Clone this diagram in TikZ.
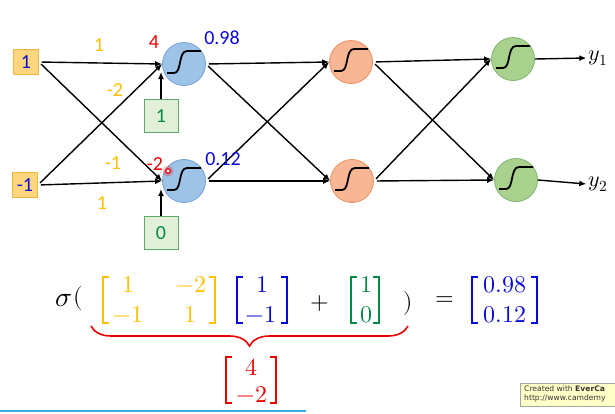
\documentclass[tikz,border=0pt]{standalone}
\usepackage{amsmath}
\usepackage{fontspec}
\usepackage{unicode-math}
\setmathfont{Latin Modern Math}
\newfontfamily\lab{Carlito}
\newfontfamily\wmfont{DejaVu Sans}
\usetikzlibrary{calc,decorations.pathreplacing,arrows.meta}
\definecolor{gold}{RGB}{255,192,0}
\definecolor{txtblue}{RGB}{10,10,215}
\definecolor{txtred}{RGB}{235,0,0}
\definecolor{txtgreen}{RGB}{0,140,70}
\definecolor{infill}{RGB}{255,214,125}
\definecolor{inborder}{RGB}{245,180,70}
\definecolor{bfill}{RGB}{226,240,217}
\definecolor{bborder}{RGB}{90,170,105}
\definecolor{nbfill}{RGB}{157,195,230}
\definecolor{nbdraw}{RGB}{115,160,215}
\definecolor{nofill}{RGB}{248,182,148}
\definecolor{nodraw}{RGB}{235,145,95}
\definecolor{ngfill}{RGB}{169,209,142}
\definecolor{ngdraw}{RGB}{130,180,110}
\definecolor{lineblue}{RGB}{60,170,230}
\definecolor{wmfill}{RGB}{255,255,200}
\newcommand\sigcurve[1]{\draw[sigline] ($(#1)+(-17,9)$) -- ($(#1)+(-10,9)$) .. controls ($(#1)+(-2,9)$) and ($(#1)+(-6,-13)$) .. ($(#1)+(3,-13)$) -- ($(#1)+(17,-13)$);}
\newcommand\brkpair[5]{%
  \draw[#1, brk] (#2+6,#4) -- (#2,#4) -- (#2,#5) -- (#2+6,#5);
  \draw[#1, brk] (#3-6,#4) -- (#3,#4) -- (#3,#5) -- (#3-6,#5);}
\tikzset{
  inbox/.style={draw=inborder, fill=infill, line width=0.8pt, minimum width=25pt, minimum height=25pt, inner sep=0pt, font=\lab\fontsize{20}{22}\selectfont, text=txtblue},
  biasbox/.style={draw=bborder, fill=bfill, line width=0.8pt, minimum width=34pt, minimum height=33pt, inner sep=0pt, font=\lab\fontsize{20}{22}\selectfont, text=txtgreen},
  neuron/.style={circle, minimum size=43pt, inner sep=0pt, line width=0.8pt},
  nblue/.style={neuron, draw=nbdraw, fill=nbfill},
  norange/.style={neuron, draw=nodraw, fill=nofill},
  ngreen/.style={neuron, draw=ngdraw, fill=ngfill},
  sigline/.style={line width=1.8pt, black},
  conn/.style={line width=1.4pt, black, -{Latex[length=7pt,width=6pt]}},
  wlab/.style={font=\lab\fontsize{20}{22}\selectfont, text=gold, inner sep=0pt},
  zlab/.style={font=\lab\fontsize{20}{22}\selectfont, text=txtred, inner sep=0pt},
  alab/.style={font=\lab\fontsize{20}{22}\selectfont, text=txtblue, inner sep=0pt},
  outlab/.style={font=\fontsize{22}{24}\selectfont, inner sep=0pt},
  eq/.style={font=\fontsize{24}{28}\selectfont, inner sep=0pt},
  brk/.style={line width=1.5pt},
}
\begin{document}
\begin{tikzpicture}[x=1pt,y=-1pt]
\useasboundingbox (0,0) rectangle (615,413);
% input and neurons
\node[inbox] (x1) at (26,62) {1};
\node[inbox] (x2) at (25,185) {-1};
\node[nblue] (h1) at (184,64) {};
\node[nblue] (h2) at (184,181) {};
\node[biasbox] (b1) at (161,116) {1};
\node[biasbox] (b2) at (161,233) {0};
\node[norange] (g1) at (351,62) {};
\node[norange] (g2) at (352,181) {};
\node[ngreen] (o1) at (513,59) {};
\node[ngreen] (o2) at (516,180) {};
\node[outlab] (y1) at (598,58) {$y_1$};
\node[outlab] (y2) at (598,184) {$y_2$};
\foreach \n in {h1,h2,g1,g2,o1,o2} {\sigcurve{\n}}
\coordinate (hin1) at ($(h1.west)+(0,8)$);
\coordinate (hin2) at ($(h2.west)+(0,8)$);
% connectors
\draw[conn, shorten <=3pt] (x1.east) -- (h1.west);
\draw[conn, shorten <=3pt] (x1.east) -- (h2.west);
\draw[conn, shorten <=3pt] (x2.east) -- (h1.west);
\draw[conn, shorten <=3pt] (x2.east) -- (h2.west);
\draw[conn] (b1.north) -- (b1.north |- hin1);
\draw[conn] (b2.north) -- (b2.north |- hin2);
\draw[conn, shorten <=3pt] (h1.east) -- (g1.west);
\draw[conn, shorten <=3pt] (h1.east) -- (g2.west);
\draw[conn, shorten <=3pt] (h2.east) -- (g1.west);
\draw[conn, shorten <=3pt] (h2.east) -- (g2.west);
\draw[conn, shorten <=3pt] (g1.east) -- (o1.west);
\draw[conn, shorten <=3pt] (g1.east) -- (o2.west);
\draw[conn, shorten <=3pt] (g2.east) -- (o1.west);
\draw[conn, shorten <=3pt] (g2.east) -- (o2.west);
\draw[conn] (o1.east) -- ([xshift=-2pt]y1.west);
\draw[conn] (o2.east) -- ([xshift=-2pt]y2.west);
% labels
\node[wlab] (w11) at (99,45) {1};
\node[wlab] (w12) at (115,90) {-2};
\node[wlab] (w21) at (113,163) {-1};
\node[wlab] (w22) at (102,203) {1};
\node[zlab] (z1) at (154,42) {4};
\node[zlab] (z2) at (155,164) {-2};
\node[alab] (a1) at (222,38) {0.98};
\node[alab] (a2) at (223,159) {0.12};
% pointer dot
\fill[red, opacity=0.25] (168,171) circle (5.5pt);
\draw[txtred, line width=1.2pt, fill=white] (168,171) circle (2.3pt);
% equation
\node[eq, font=\fontsize{28}{30}\selectfont] (sig) at (64,301) {$\sigma$};
\node[eq] (lp) at (78,298) {$($};
\brkpair{gold}{103}{215}{277}{323}
\node[eq, text=gold] (m11) at (128,285) {$1$};
\node[eq, text=gold] (m12) at (191,285) {$-2$};
\node[eq, text=gold] (m21) at (128,315) {$-1$};
\node[eq, text=gold] (m22) at (190,315) {$1$};
\brkpair{txtblue}{237}{287}{277}{323}
\node[eq, text=txtblue] (v1) at (262,285) {$1$};
\node[eq, text=txtblue] (v2) at (261,315) {$-1$};
\node[eq] (plus) at (320,303) {$+$};
\brkpair{txtgreen}{351}{379}{277}{323}
\node[eq, text=txtgreen] (c1) at (366,285) {$1$};
\node[eq, text=txtgreen] (c2) at (366,315) {$0$};
\node[eq] (rp) at (408,303) {$)$};
\node[eq] (eqs) at (445,301) {$=$};
\brkpair{txtblue}{472}{537}{277}{323}
\node[eq, text=txtblue] (r1) at (505,285) {$0.98$};
\node[eq, text=txtblue] (r2) at (505,315) {$0.12$};
\draw[txtred, line width=1.6pt, decorate, decoration={brace, mirror, amplitude=20pt}] (91,326) -- (408,326);
\brkpair{txtred}{226}{276}{357}{403}
\node[eq, text=txtred] (z1e) at (251,367) {$4$};
\node[eq, text=txtred] (z2e) at (252,394) {$-2$};
% bottom line and watermark
\draw[lineblue, line width=1.6pt] (0,411) -- (306,411);
\begin{scope}
\clip (0,0) rectangle (615,413);
\draw[gray!70, fill=wmfill] (520,383) rectangle (620,406);
\end{scope}
\node[anchor=north west, inner sep=0pt, align=left, font=\wmfont\fontsize{7.6}{9}\selectfont, text=black!80] (wm) at (524,386) {Created with \textbf{EverCa}\\http://www.camdemy};
\end{tikzpicture}
\end{document}
